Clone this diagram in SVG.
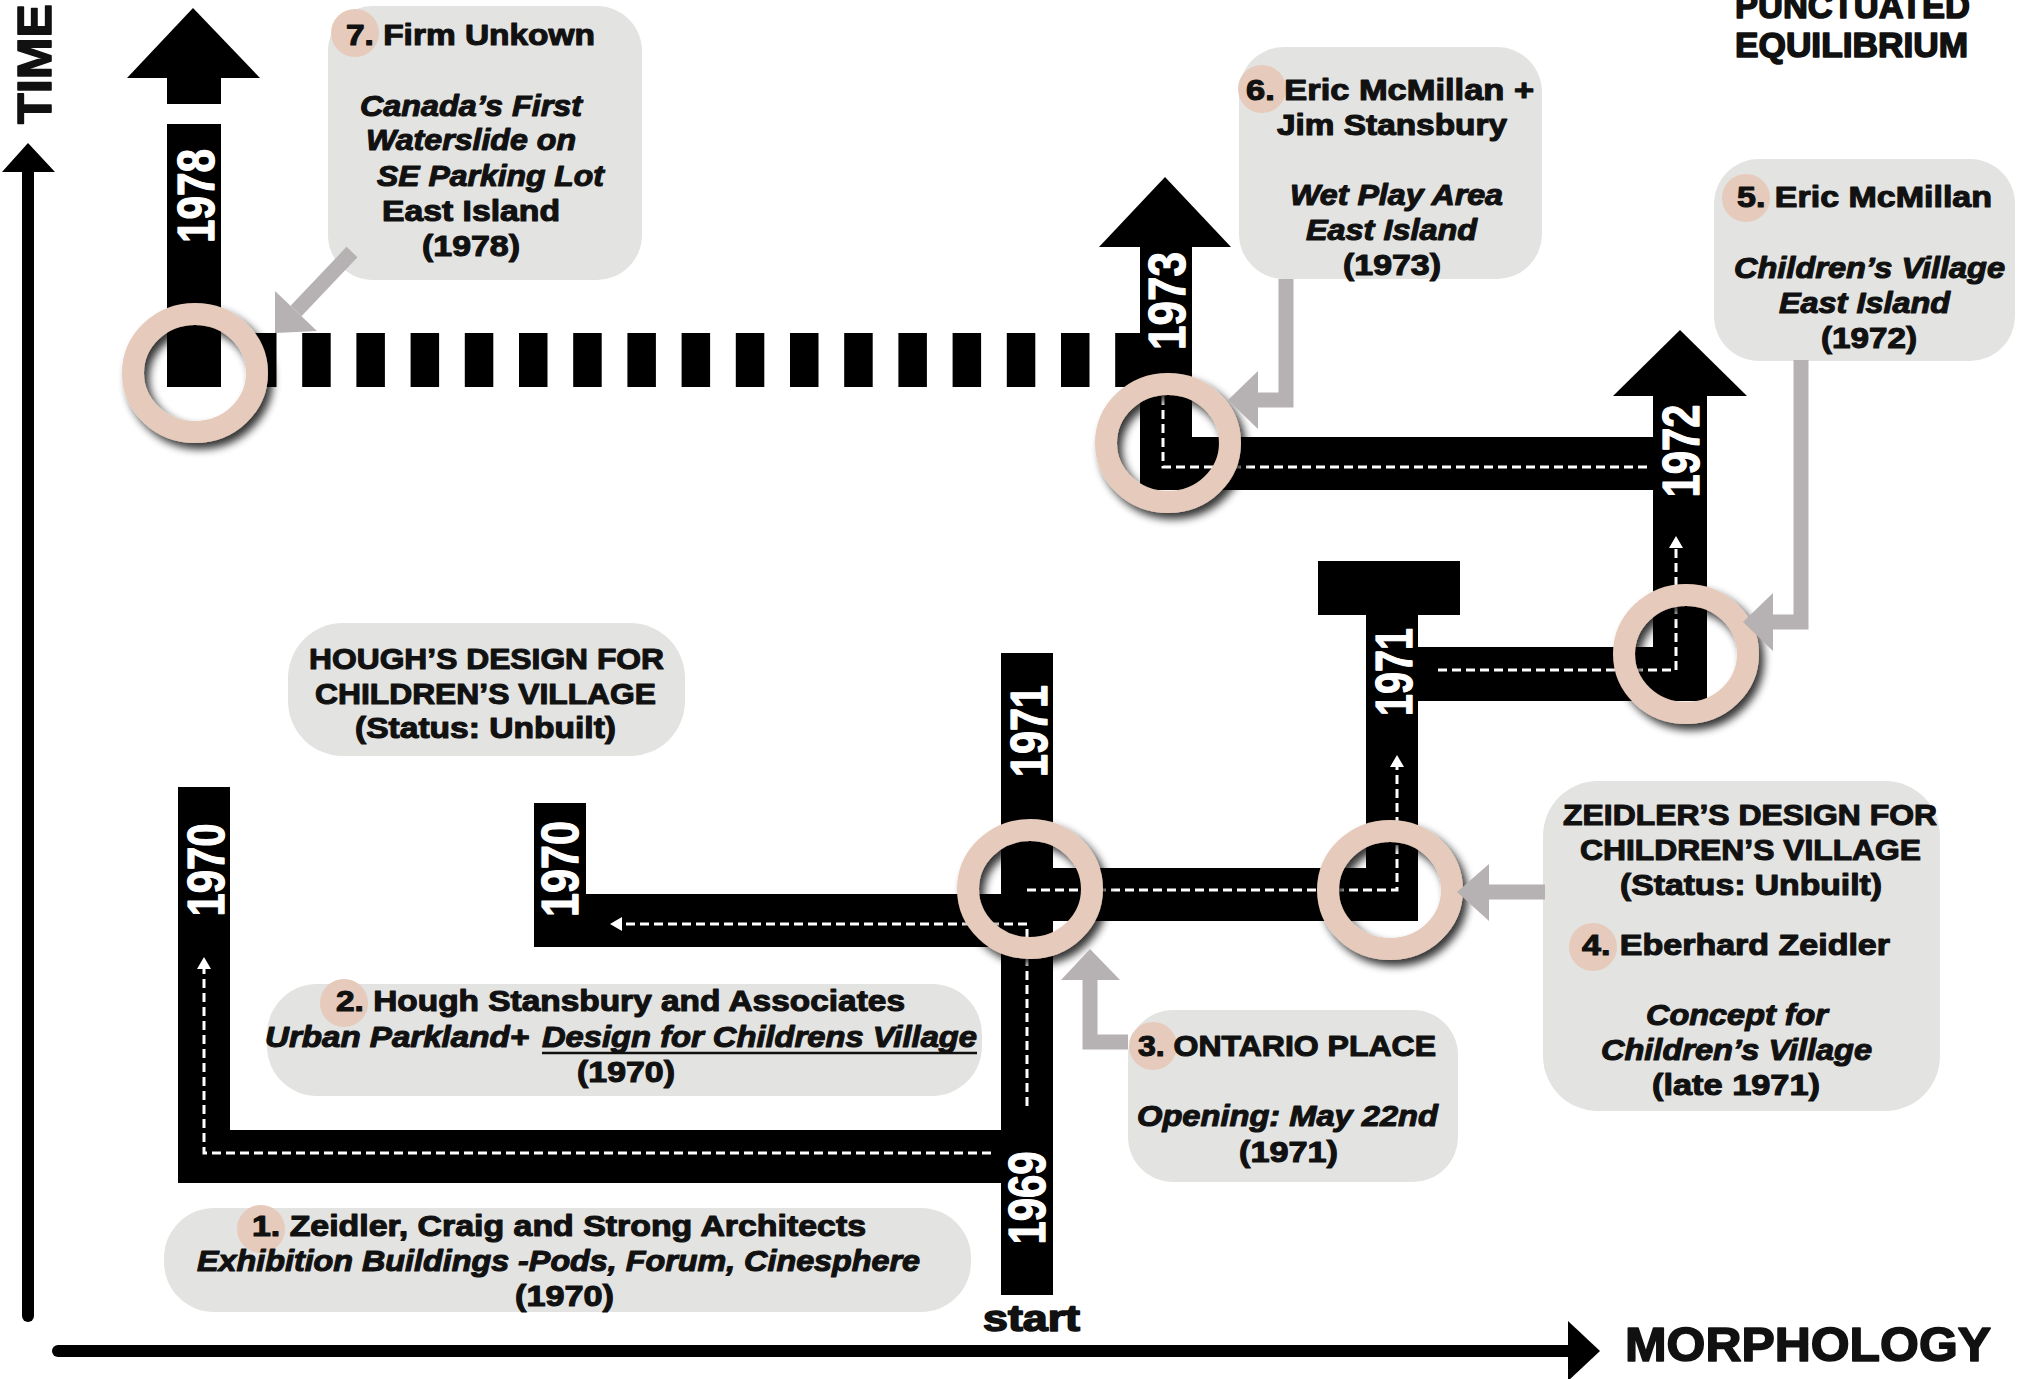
<svg xmlns="http://www.w3.org/2000/svg" width="2017" height="1379" viewBox="0 0 2017 1379">
  <defs>
    <style>
      .box { fill: #e3e3e1; }
      .bar { fill: #000; }
      .ring { fill: none; stroke: #e6cabb; stroke-width: 22; filter: url(#ringShadow); }
      .num { fill: #e6cabb; }
      .lead { fill: none; stroke: #b6b1b2; stroke-width: 15; stroke-linejoin: miter; }
      .leadHead { fill: #b6b1b2; }
      .route { fill: none; stroke: #fff; stroke-width: 3; stroke-dasharray: 9 5; }
      .routeHead { fill: #fff; }
      .t { font-family: "Liberation Sans", Arial, Helvetica, sans-serif; font-weight: bold; font-size: 29px; fill: #111; stroke: #111; stroke-width: 1.1; stroke-linejoin: round; }
      .i { font-style: italic; }
      .yr { font-family: "Liberation Sans", Arial, Helvetica, sans-serif; font-weight: bold; font-size: 52px; fill: #fff; stroke: #fff; stroke-width: 1.2; stroke-linejoin: round; text-anchor: middle; }
      .axisLbl { font-family: "Liberation Sans", Arial, Helvetica, sans-serif; font-weight: bold; fill: #111; stroke: #111; stroke-width: 1.6; stroke-linejoin: round; }
    </style>
    <filter id="ringShadow" x="-30%" y="-30%" width="170%" height="170%">
      <feGaussianBlur in="SourceAlpha" stdDeviation="4"/>
      <feOffset dx="5" dy="6" result="off"/>
      <feComponentTransfer><feFuncA type="linear" slope="0.8"/></feComponentTransfer>
      <feMerge><feMergeNode/><feMergeNode in="SourceGraphic"/></feMerge>
    </filter>
  </defs>

  <rect width="2017" height="1379" fill="#fff"/>

  <!-- axes -->
  <g id="axes">
    <line x1="28" y1="168" x2="28" y2="1316" stroke="#000" stroke-width="12" stroke-linecap="round"/>
    <polygon points="28,143 55,172 2,172" fill="#000"/>
    <line x1="58" y1="1351" x2="1572" y2="1351" stroke="#000" stroke-width="12" stroke-linecap="round"/>
    <polygon points="1600,1351 1568,1321 1568,1381" fill="#000"/>
    <text class="axisLbl" font-size="49" transform="translate(33 64) rotate(-90)" x="0" y="17.5" text-anchor="middle" textLength="120" lengthAdjust="spacingAndGlyphs">TIME</text>
    <text class="axisLbl" font-size="48" x="1625" y="1361" textLength="366" lengthAdjust="spacingAndGlyphs">MORPHOLOGY</text>
    <text class="axisLbl" font-size="36" x="983" y="1331" textLength="97" lengthAdjust="spacingAndGlyphs">start</text>
    <text class="axisLbl" font-size="35" x="1735" y="18" textLength="235" lengthAdjust="spacingAndGlyphs">PUNCTUATED</text>
    <text class="axisLbl" font-size="35" x="1735" y="57" textLength="233" lengthAdjust="spacingAndGlyphs">EQUILIBRIUM</text>
  </g>

  <!-- callout panels -->
  <g id="node-7"><rect class="box" x="328" y="6" width="314" height="274" rx="45"/></g>
  <g id="node-6"><rect class="box" x="1239" y="47" width="303" height="232" rx="45"/></g>
  <g id="node-5"><rect class="box" x="1714" y="159" width="301" height="202" rx="45"/></g>
  <g id="node-hough"><rect class="box" x="288" y="623" width="397" height="133" rx="55"/></g>
  <g id="node-2"><rect class="box" x="267" y="984" width="715" height="112" rx="50"/></g>
  <g id="node-1"><rect class="box" x="164" y="1208" width="807" height="104" rx="50"/></g>
  <g id="node-3"><rect class="box" x="1128" y="1010" width="330" height="172" rx="45"/></g>
  <g id="node-4"><rect class="box" x="1543" y="781" width="397" height="330" rx="55"/></g>

  <!-- timeline paths -->
  <g id="connectors">
    <!-- 1969 / 1970 lower-left L -->
    <rect class="bar" x="178" y="787" width="52" height="396"/>
    <rect class="bar" x="178" y="1130" width="826" height="53"/>
    <!-- 1970 middle L -->
    <rect class="bar" x="534" y="803" width="52" height="144"/>
    <rect class="bar" x="534" y="894" width="480" height="53"/>
    <!-- start spine 1969-1971 -->
    <rect class="bar" x="1001" y="653" width="52" height="642"/>
    <!-- 1971 east run -->
    <rect class="bar" x="1001" y="868" width="417" height="53"/>
    <rect class="bar" x="1366" y="561" width="52" height="360"/>
    <rect class="bar" x="1318" y="561" width="142" height="54"/>
    <rect class="bar" x="1366" y="647" width="341" height="54"/>
    <!-- 1972 -->
    <rect class="bar" x="1653" y="396" width="54" height="305"/>
    <polygon class="bar" points="1680,330 1747,396 1613,396"/>
    <!-- 1973 -->
    <rect class="bar" x="1140" y="437" width="567" height="53"/>
    <rect class="bar" x="1140" y="247" width="52" height="243"/>
    <polygon class="bar" points="1165,177 1231,247 1099,247"/>
    <!-- gap years to 1978 -->
    <path d="M248 360 H1140" stroke="#000" stroke-width="54" stroke-dasharray="28.5 25.7" fill="none"/>
    <rect class="bar" x="167" y="124" width="54" height="263"/>
    <rect class="bar" x="167" y="76" width="54" height="28"/>
    <polygon class="bar" points="193,8 260,78 127,78"/>

    <!-- routes -->
    <path class="route" d="M991 1153 H204 V968"/>
    <polygon class="routeHead" points="204,957 197,969 211,969"/>
    <path class="route" d="M1027 1106 V924 H621"/>
    <polygon class="routeHead" points="610,924 622,917 622,931"/>
    <path class="route" d="M1027 890 H1397 V766"/>
    <polygon class="routeHead" points="1397,755 1390,767 1404,767"/>
    <path class="route" d="M1438 670 H1676 V547"/>
    <polygon class="routeHead" points="1676,536 1669,548 1683,548"/>
    <path class="route" d="M1647 467 H1163 V395"/>

    <!-- year labels -->
    <text class="yr" transform="translate(195 196) rotate(-90)" y="18.5" textLength="94" lengthAdjust="spacingAndGlyphs">1978</text>
    <text class="yr" transform="translate(1166 301) rotate(-90)" y="18.5" textLength="98" lengthAdjust="spacingAndGlyphs">1973</text>
    <text class="yr" transform="translate(1680 451) rotate(-90)" y="18.5" textLength="93" lengthAdjust="spacingAndGlyphs">1972</text>
    <text class="yr" transform="translate(1393 672) rotate(-90)" y="18.5" textLength="88" lengthAdjust="spacingAndGlyphs">1971</text>
    <text class="yr" transform="translate(1028 731) rotate(-90)" y="18.5" textLength="92" lengthAdjust="spacingAndGlyphs">1971</text>
    <text class="yr" transform="translate(1026 1198) rotate(-90)" y="18.5" textLength="93" lengthAdjust="spacingAndGlyphs">1969</text>
    <text class="yr" transform="translate(205 870) rotate(-90)" y="18.5" textLength="93" lengthAdjust="spacingAndGlyphs">1970</text>
    <text class="yr" transform="translate(559 869) rotate(-90)" y="18.5" textLength="96" lengthAdjust="spacingAndGlyphs">1970</text>

    <!-- milestone rings -->
    <ellipse class="ring" cx="195" cy="373" rx="62" ry="59"/>
    <ellipse class="ring" cx="1168" cy="443" rx="62" ry="59"/>
    <ellipse class="ring" cx="1030" cy="889" rx="62" ry="59"/>
    <ellipse class="ring" cx="1390" cy="890" rx="62" ry="59"/>
    <ellipse class="ring" cx="1686" cy="654" rx="62" ry="59"/>

    <!-- callout leaders -->
    <path class="lead" d="M352 252 L296 311"/>
    <polygon class="leadHead" points="275,333 317,331 275,291"/>
    <path class="lead" d="M1286 279 V400 H1256"/>
    <polygon class="leadHead" points="1228,400 1258,371 1258,429"/>
    <path class="lead" d="M1801 360 V622 H1771"/>
    <polygon class="leadHead" points="1743,622 1773,593 1773,651"/>
    <path class="lead" d="M1545 892 H1488"/>
    <polygon class="leadHead" points="1457,892 1489,864 1489,921"/>
    <path class="lead" d="M1128 1042 H1090 V978"/>
    <polygon class="leadHead" points="1090,949 1061,980 1120,980"/>
  </g>

  <!-- callout texts -->
  <g id="node-7-text">
    <circle class="num" cx="355" cy="33" r="24"/>
    <text class="t" x="346" y="45" textLength="249" lengthAdjust="spacingAndGlyphs">7. Firm Unkown</text>
    <text class="t i" x="360" y="116" textLength="222" lengthAdjust="spacingAndGlyphs">Canada’s First</text>
    <text class="t i" x="366" y="150" textLength="210" lengthAdjust="spacingAndGlyphs">Waterslide on</text>
    <text class="t i" x="377" y="186" textLength="227" lengthAdjust="spacingAndGlyphs">SE Parking Lot</text>
    <text class="t" x="382" y="221" textLength="178" lengthAdjust="spacingAndGlyphs">East Island</text>
    <text class="t" x="422" y="256" textLength="98" lengthAdjust="spacingAndGlyphs">(1978)</text>
  </g>
  <g id="node-6-text">
    <circle class="num" cx="1262" cy="89" r="24"/>
    <text class="t" x="1246" y="100" textLength="288" lengthAdjust="spacingAndGlyphs">6. Eric McMillan +</text>
    <text class="t" x="1277" y="135" textLength="230" lengthAdjust="spacingAndGlyphs">Jim Stansbury</text>
    <text class="t i" x="1290" y="205" textLength="213" lengthAdjust="spacingAndGlyphs">Wet Play Area</text>
    <text class="t i" x="1306" y="240" textLength="171" lengthAdjust="spacingAndGlyphs">East Island</text>
    <text class="t" x="1343" y="275" textLength="98" lengthAdjust="spacingAndGlyphs">(1973)</text>
  </g>
  <g id="node-5-text">
    <circle class="num" cx="1746" cy="198" r="24"/>
    <text class="t" x="1737" y="207" textLength="255" lengthAdjust="spacingAndGlyphs">5. Eric McMillan</text>
    <text class="t i" x="1734" y="278" textLength="271" lengthAdjust="spacingAndGlyphs">Children’s Village</text>
    <text class="t i" x="1779" y="313" textLength="171" lengthAdjust="spacingAndGlyphs">East Island</text>
    <text class="t" x="1821" y="348" textLength="96" lengthAdjust="spacingAndGlyphs">(1972)</text>
  </g>
  <g id="node-hough-text">
    <text class="t" x="309" y="669" textLength="355" lengthAdjust="spacingAndGlyphs">HOUGH’S DESIGN FOR</text>
    <text class="t" x="315" y="704" textLength="341" lengthAdjust="spacingAndGlyphs">CHILDREN’S VILLAGE</text>
    <text class="t" x="355" y="738" textLength="261" lengthAdjust="spacingAndGlyphs">(Status: Unbuilt)</text>
  </g>
  <g id="node-2-text">
    <circle class="num" cx="344" cy="1003" r="24"/>
    <text class="t" x="336" y="1011" textLength="569" lengthAdjust="spacingAndGlyphs">2. Hough Stansbury and Associates</text>
    <text class="t i" x="265" y="1047" textLength="264" lengthAdjust="spacingAndGlyphs">Urban Parkland+</text>
    <text class="t i" x="542" y="1047" textLength="435" lengthAdjust="spacingAndGlyphs">Design for Childrens Village</text>
    <line x1="542" y1="1053" x2="977" y2="1053" stroke="#111" stroke-width="2.5"/>
    <text class="t" x="577" y="1082" textLength="98" lengthAdjust="spacingAndGlyphs">(1970)</text>
  </g>
  <g id="node-1-text">
    <circle class="num" cx="261" cy="1229" r="24"/>
    <text class="t" x="252" y="1236" textLength="614" lengthAdjust="spacingAndGlyphs">1. Zeidler, Craig and Strong Architects</text>
    <text class="t i" x="197" y="1271" textLength="723" lengthAdjust="spacingAndGlyphs">Exhibition Buildings -Pods, Forum, Cinesphere</text>
    <text class="t" x="515" y="1306" textLength="99" lengthAdjust="spacingAndGlyphs">(1970)</text>
  </g>
  <g id="node-3-text">
    <circle class="num" cx="1153" cy="1046" r="24"/>
    <text class="t" x="1138" y="1056" textLength="298" lengthAdjust="spacingAndGlyphs">3. ONTARIO PLACE</text>
    <text class="t i" x="1137" y="1126" textLength="301" lengthAdjust="spacingAndGlyphs">Opening: May 22nd</text>
    <text class="t" x="1239" y="1162" textLength="99" lengthAdjust="spacingAndGlyphs">(1971)</text>
  </g>
  <g id="node-4-text">
    <circle class="num" cx="1593" cy="947" r="24"/>
    <text class="t" x="1563" y="825" textLength="374" lengthAdjust="spacingAndGlyphs">ZEIDLER’S DESIGN FOR</text>
    <text class="t" x="1580" y="860" textLength="341" lengthAdjust="spacingAndGlyphs">CHILDREN’S VILLAGE</text>
    <text class="t" x="1620" y="895" textLength="262" lengthAdjust="spacingAndGlyphs">(Status: Unbuilt)</text>
    <text class="t" x="1582" y="955" textLength="308" lengthAdjust="spacingAndGlyphs">4. Eberhard Zeidler</text>
    <text class="t i" x="1646" y="1025" textLength="182" lengthAdjust="spacingAndGlyphs">Concept for</text>
    <text class="t i" x="1601" y="1060" textLength="271" lengthAdjust="spacingAndGlyphs">Children’s Village</text>
    <text class="t" x="1652" y="1095" textLength="168" lengthAdjust="spacingAndGlyphs">(late 1971)</text>
  </g>
</svg>
